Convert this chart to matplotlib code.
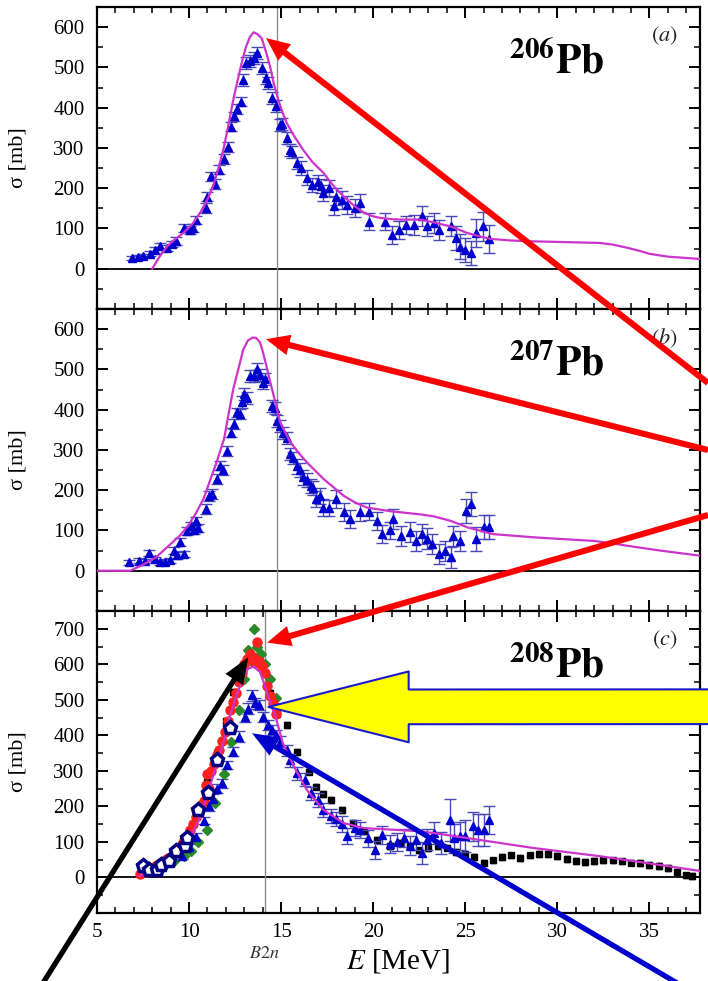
import matplotlib
matplotlib.use('Agg')
import matplotlib.pyplot as plt
from matplotlib.text import Annotation
from matplotlib.ticker import MultipleLocator

plt.rcParams['font.family'] = ['Liberation Serif', 'DejaVu Serif']
plt.rcParams['mathtext.fontset'] = 'stix'

# ---- panel (a) 206Pb ----
a_E = [6.9, 7.2, 7.5, 7.9, 8.15, 8.4, 8.8, 9.1, 9.3, 9.7, 10.05, 10.2, 10.4, 10.9, 10.96, 11.2, 11.4, 11.6,
       11.9, 12.1, 12.3, 12.45, 12.6, 12.8, 12.95, 13.1, 13.3, 13.5, 13.7, 13.95, 14.2, 14.3, 14.5, 14.7,
       14.95, 15.05, 15.3, 15.5, 15.6, 15.85, 16.1, 16.4, 16.7, 17.0, 17.15, 17.3, 17.6, 17.85, 18.0, 18.3,
       18.6, 19.0, 19.3, 19.8, 20.65, 21.0, 21.4, 21.8, 22.2, 22.65, 22.9, 23.3, 23.6, 24.2, 24.5, 24.7,
       25.0, 25.3, 25.6, 25.99, 26.3]
a_sig = [27, 29, 31, 37, 47, 57, 52, 62, 68, 102, 97, 100, 122, 151, 179, 229, 210, 246,
         272, 303, 353, 378, 396, 415, 469, 510, 515, 523, 535, 498, 473, 461, 424, 403,
         357, 360, 324, 295, 290, 263, 250, 226, 208, 215, 205, 188, 200, 155, 179, 170,
         159, 151, 163, 117, 117, 84, 97, 109, 109, 130, 105, 114, 97, 105, 77, 55,
         47, 40, 89, 105, 74]
a_err = [5, 5, 5, 6, 8, 8, 8, 8, 10, 10, 10, 10, 10, 12, 12, 12, 12, 12,
         12, 12, 12, 12, 12, 12, 15, 15, 15, 15, 15, 15, 15, 15, 15, 15,
         15, 15, 15, 15, 15, 15, 18, 18, 18, 18, 18, 20, 20, 22, 22, 22,
         22, 22, 22, 22, 22, 22, 22, 22, 25, 25, 25, 25, 25, 25, 30, 30,
         30, 30, 35, 35, 35]
a_fit_E = [8.0, 8.4, 8.8, 9.2, 9.7, 10.2, 10.6, 11.0, 11.3, 11.6, 11.9, 12.15, 12.4, 12.65, 12.9, 13.1,
           13.3, 13.5, 13.7, 13.95, 14.2, 14.4, 14.6, 14.85, 15.1, 15.3, 15.7, 16.2, 16.7, 17.3, 17.8,
           18.4, 19.0, 19.5, 20.0, 20.4, 21.0, 21.5, 22.55, 23.3, 24.2, 25.1, 25.8, 26.4, 27.5, 28.7,
           30.5, 32.3, 33.0, 33.8, 34.5, 35.0, 36.0, 37.8]
a_fit_sig = [0, 30, 55, 72, 89, 112, 139, 172, 204, 250, 303, 360, 419, 470, 519, 552,
             575, 587, 583, 572, 535, 502, 460, 419, 385, 362, 330, 295, 265, 238, 208,
             179, 155, 139, 130, 126, 123, 122, 122, 115, 105, 89, 80, 74, 70, 68,
             66, 64, 60, 52, 44, 37, 30, 24]

# ---- panel (b) 207Pb ----
b_E = [6.75, 7.3, 7.6, 7.85, 8.15, 8.4, 8.7, 8.97, 9.2, 9.35, 9.5, 9.7, 9.9, 10.1, 10.25, 10.4, 10.5,
       10.9, 11.1, 11.25, 11.5, 11.7, 11.85, 12.05, 12.3, 12.45, 12.6, 12.75, 12.85, 13.0, 13.15, 13.3,
       13.5, 13.7, 13.85, 14.0, 14.1, 14.5, 14.65, 14.75, 14.95, 15.1, 15.3, 15.5, 15.65, 15.85, 16.0,
       16.2, 16.4, 16.6, 16.75, 16.9, 17.1, 17.3, 17.6, 18.0, 18.4, 18.75, 19.3, 19.8, 20.2, 20.5,
       20.9, 21.1, 21.5, 22.0, 22.3, 22.65, 22.9, 23.2, 23.6, 23.9, 24.2, 24.35, 24.7, 25.05, 25.3,
       25.6, 26.0, 26.3]
b_sig = [21, 25, 24, 44, 29, 21, 22, 26, 50, 38, 72, 41, 99, 112, 100, 124, 105,
         153, 186, 190, 228, 261, 250, 298, 343, 364, 393, 390, 418, 438, 430, 484,
         484, 500, 485, 467, 475, 409, 405, 372, 360, 343, 330, 290, 280, 259, 250,
         232, 225, 211, 205, 178, 185, 157, 156, 178, 145, 128, 145, 147, 124, 91,
         100, 128, 87, 96, 74, 91, 80, 66, 41, 50, 33, 87, 74, 149, 165,
         79, 108, 108]
b_err = [6, 6, 6, 8, 6, 6, 6, 6, 8, 8, 10, 8, 10, 10, 10, 10, 10,
         12, 12, 12, 12, 12, 12, 12, 12, 12, 12, 12, 15, 15, 15, 15,
         15, 15, 15, 15, 15, 15, 15, 15, 15, 15, 15, 15, 15, 18, 18,
         18, 18, 18, 18, 20, 20, 20, 20, 22, 22, 22, 22, 22, 22, 22,
         22, 25, 25, 25, 25, 25, 25, 25, 25, 25, 25, 25, 25, 30, 30,
         30, 30, 30]
b_fit_E = [5.0, 6.8, 7.5, 8.2, 8.8, 9.5, 10.0, 10.4, 10.8, 11.1, 11.5, 11.9, 12.15, 12.4, 12.7, 12.95,
           13.2, 13.46, 13.65, 13.85, 14.0, 14.2, 14.4, 14.6, 14.95, 15.5, 16.0, 16.4, 17.3, 18.4, 19.0,
           19.65, 20.9, 22.55, 23.3, 24.2, 25.1, 26.5, 28.7, 30.5, 32.0, 33.0, 33.8, 35.6, 37.8]
b_fit_sig = [0, 0, 15, 33, 58, 87, 115, 145, 180, 219, 270, 327, 390, 451, 505, 550,
             572, 579, 578, 567, 545, 509, 470, 434, 368, 319, 290, 269, 228, 186, 170,
             157, 148, 140, 135, 124, 108, 91, 83, 78, 74, 68, 62, 50, 37]

# ---- panel (c) 208Pb ----
c_E = [9.6, 10.0, 10.4, 10.8, 11.1, 11.3, 11.5, 11.8, 12.07, 12.4, 12.7, 13.04, 13.2, 13.4, 13.6, 13.8,
       14.0, 14.3, 14.5, 14.7, 14.95, 15.3, 15.5, 15.85, 16.3, 16.6, 17.0, 17.3, 17.7, 18.0, 18.3,
       18.6, 19.0, 19.3, 19.7, 20.1, 20.5, 20.9, 21.3, 21.7, 22.0, 22.3, 22.65, 22.9, 23.3, 23.7,
       24.15, 24.4, 24.7, 25.0, 25.4, 25.7, 26.0, 26.3]
c_sig = [60, 85, 115, 160, 200, 222, 250, 265, 316, 354, 396, 452, 475, 513, 490, 485,
         452, 429, 415, 400, 382, 358, 330, 293, 275, 237, 219, 190, 172, 165, 150,
         116, 140, 134, 110, 78, 120, 95, 100, 112, 90, 106, 69, 106, 125, 97,
         162, 110, 116, 116, 144, 134, 134, 161]
c_err = [8, 8, 10, 10, 12, 12, 12, 12, 12, 12, 15, 15, 15, 15, 15, 15,
         15, 15, 15, 15, 15, 15, 18, 18, 18, 18, 20, 20, 20, 20, 22,
         22, 22, 22, 25, 25, 25, 25, 25, 25, 28, 28, 30, 30, 30, 30,
         60, 40, 40, 45, 40, 45, 45, 40]
c_fit_E = [7.3, 7.8, 8.25, 8.8, 9.3, 9.8, 10.2, 10.6, 10.96, 11.3, 11.7, 12.0, 12.2, 12.5, 12.8, 13.0,
           13.2, 13.5, 13.86, 14.2, 14.5, 14.7, 15.1, 15.7, 16.4, 17.3, 18.4, 19.5, 20.9, 22.55, 23.3,
           25.1, 28.7, 32.3, 36.0, 37.8]
c_fit_sig = [4, 18, 32, 50, 69, 95, 125, 170, 228, 285, 349, 405, 452, 500, 545, 570,
             587, 594, 578, 527, 480, 452, 377, 312, 246, 190, 153, 139, 135, 130, 125,
             111, 83, 60, 32, 18]
red_E = [7.35, 7.5, 7.65, 7.8, 7.95, 8.1, 8.25, 8.4, 8.55, 8.7, 8.85, 9.0, 9.15, 9.3, 9.45, 9.6, 9.75,
         9.9, 10.05, 10.2, 10.35, 10.5, 10.65, 10.8, 10.9, 11.0, 11.1, 11.2, 11.35, 11.5, 11.65, 11.8,
         11.95, 12.1, 12.25, 12.4, 12.55, 12.7, 12.85, 13.0, 13.15, 13.3, 13.45, 13.6, 13.7, 13.8, 13.95,
         14.1, 14.25, 14.4, 14.55, 14.7]
red_sig = [10, 18, 15, 25, 22, 30, 35, 40, 38, 48, 55, 52, 62, 75, 80, 95, 105,
           115, 135, 150, 170, 185, 205, 215, 260, 290, 250, 300, 320, 345, 360, 385,
           410, 440, 470, 495, 520, 550, 575, 600, 615, 630, 620, 605, 662, 610, 595,
           575, 540, 510, 490, 460]
green_E = [8.6, 9.2, 9.7, 10.1, 10.5, 10.96, 11.4, 11.9, 12.3, 12.7, 13.0, 13.2, 13.35, 13.5, 13.7,
           13.9, 14.1, 14.4, 14.7]
green_sig = [30, 45, 60, 75, 100, 135, 210, 290, 380, 470, 560, 640, 610, 700, 650,
             630, 600, 560, 505]
black_E = [10.0, 10.5, 10.96, 11.5, 12.0, 12.4, 12.8, 13.2, 13.6, 14.0, 14.4, 14.8, 15.3, 15.85, 16.5,
           16.9, 17.3, 17.7, 18.3, 18.9, 19.5, 20.2, 20.9, 21.5, 22.0, 22.5, 23.0, 23.5, 24.0, 24.5,
           25.0, 25.5, 26.0, 26.5, 27.0, 27.5, 28.0, 28.5, 29.0, 29.5, 30.0, 30.5, 31.0, 31.5, 32.0,
           32.5, 33.0, 33.5, 34.0, 34.5, 35.0, 35.5, 36.0, 36.5, 37.0, 37.3]
black_sig = [130, 190, 270, 350, 440, 522, 570, 610, 620, 580, 520, 460, 429, 354, 298,
             256, 235, 218, 190, 153, 130, 106, 88, 97, 90, 76, 82, 88, 84, 72,
             66, 58, 42, 48, 58, 62, 55, 62, 66, 65, 60, 52, 46, 44, 46,
             50, 48, 45, 42, 40, 36, 33, 27, 15, 6, 4]
pent_E = [7.5, 7.8, 8.25, 8.5, 8.9, 9.3, 9.8, 9.9, 10.5, 11.05, 11.5, 12.2]
pent_sig = [32, 21, 22, 36, 46, 74, 90, 111, 190, 239, 332, 421]

b2n = [14.8, 14.8, 14.1]
labels = ['206', '207', '208']
letters = ['a', 'b', 'c']

fig, axes = plt.subplots(3, 1, sharex=True, figsize=(7.08, 9.81), dpi=100)
fig.subplots_adjust(left=0.137, right=0.9887, top=0.9929, bottom=0.0693, hspace=0)
axa, axb, axc = axes

blue = '#0000cc'
ebc = '#4848b8'
mag = '#cc33cc'

for ax, E, s, err, fE, fs in [(axa, a_E, a_sig, a_err, a_fit_E, a_fit_sig),
                              (axb, b_E, b_sig, b_err, b_fit_E, b_fit_sig)]:
    ax.errorbar(E, s, yerr=err, fmt='^', color=blue, ms=6, ecolor=ebc, elinewidth=1, capsize=4, zorder=3)
    ax.plot(fE, fs, color=mag, lw=1.6, zorder=4)

axc.errorbar(black_E, black_sig, yerr=8, fmt='s', color='black', ms=4.5, elinewidth=1, capsize=2, zorder=2)
axc.errorbar(c_E, c_sig, yerr=c_err, fmt='^', color=blue, ms=6, ecolor=ebc, elinewidth=1, capsize=4, zorder=3)
axc.plot(green_E, green_sig, 'D', color='#2a8a2a', ms=5, zorder=3)
axc.plot(red_E, red_sig, 'o', color='#ff2020', ms=6.5, zorder=3)
axc.plot(c_fit_E, c_fit_sig, color=mag, lw=1.6, zorder=4)
axc.plot(pent_E, pent_sig, 'p', mfc='white', mec='#000080', mew=2.5, ms=9.5, zorder=5)

for i, ax in enumerate(axes):
    ax.axhline(0, color='black', lw=1.3, zorder=1)
    ax.axvline(b2n[i], color='#8c8c8c', lw=1, zorder=1)
    ax.set_xlim(5, 37.75)
    ax.set_ylim(-100, 750 if i == 2 else 650)
    ax.set_yticks(range(0, 800 if i == 2 else 700, 100))
    ax.yaxis.set_minor_locator(MultipleLocator(50))
    ax.xaxis.set_major_locator(MultipleLocator(5))
    ax.xaxis.set_minor_locator(MultipleLocator(1))
    ax.tick_params(which='both', direction='in', top=True, right=True, labelsize=15)
    ax.tick_params(which='major', length=8, width=1.4)
    ax.tick_params(which='minor', length=4, width=1.1)
    ax.tick_params(axis='y', pad=9)
    ax.tick_params(axis='x', pad=7)
    for sp in ax.spines.values():
        sp.set_linewidth(1.6)
    ax.set_ylabel('σ [mb]', fontsize=16)
    ax.yaxis.set_label_coords(-0.115, 0.5)
    ax.text(0.763, 0.781, r'$^{\mathbf{' + labels[i] + r'}}\mathbf{Pb}$', transform=ax.transAxes,
            ha='center', va='baseline', fontsize=30)
    ax.text(0.941, 0.905, r'$(' + letters[i] + ')$', transform=ax.transAxes,
            ha='center', va='center', fontsize=16, color='#222222')

axc.set_xlabel(r'$E$ [MeV]', fontsize=21)
axc.xaxis.set_label_coords(0.5, -0.112)
axc.text(b2n[2], -0.133, r'$B2n$', transform=axc.get_xaxis_transform(), ha='center', va='center',
         fontsize=13, color='#333333')

# annotation arrows (drawn as filled shapes so the heads stay sharp)
def arrow_style(tail_w, head_w, head_l):
    return 'simple,head_length=%g,head_width=%g,tail_width=%g' % (head_l, head_w, tail_w)

red_arrow = dict(arrowstyle=arrow_style(4.4, 15, 17), mutation_scale=1, fc='red', ec='none',
                 shrinkA=0, shrinkB=0)
for ax, tip, tail in [(axa, (14.18, 573), (1.0, 0.6096)),
                      (axb, (14.18, 575), (1.0, 0.5413)),
                      (axc, (14.24, 661), (1.0, 0.475))]:
    fig.add_artist(Annotation('', xy=tip, xycoords=ax.transData, xytext=tail,
                              textcoords='figure fraction', arrowprops=red_arrow))

fig.add_artist(Annotation('', xy=(14.31, 480), xycoords=axc.transData, xytext=(1.05, 0.2796),
                          textcoords='figure fraction',
                          arrowprops=dict(arrowstyle=arrow_style(25, 51, 101),
                                          mutation_scale=1, fc='#ffff00', ec='#1a1acc', lw=1.5,
                                          shrinkA=0, shrinkB=0)))
fig.add_artist(Annotation('', xy=(13.22, 620), xycoords=axc.transData, xytext=(0.0537, -0.01),
                          textcoords='figure fraction',
                          arrowprops=dict(arrowstyle=arrow_style(3.8, 15, 19), mutation_scale=1,
                                          fc='black', ec='none', shrinkA=0, shrinkB=0)))
fig.add_artist(Annotation('', xy=(13.42, 406), xycoords=axc.transData, xytext=(0.975, -0.01),
                          textcoords='figure fraction',
                          arrowprops=dict(arrowstyle=arrow_style(3.8, 15, 19), mutation_scale=1,
                                          fc='#0000cc', ec='none', shrinkA=0, shrinkB=0)))

fig.savefig('out.png', dpi=100)
